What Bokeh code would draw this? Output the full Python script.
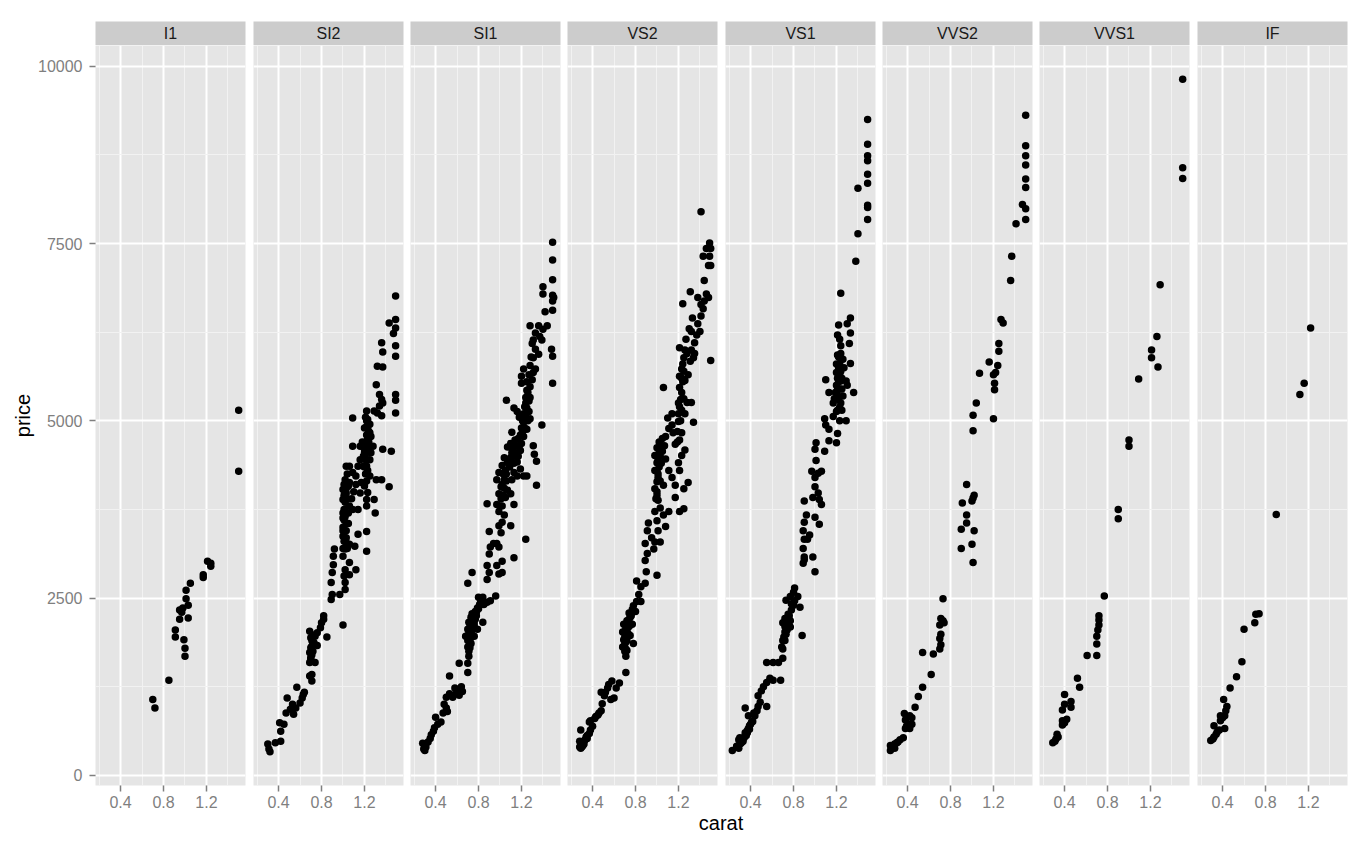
import math
from bokeh.plotting import figure
from bokeh.layouts import row, column
from bokeh.models import Range1d, FixedTicker, Label
from bokeh.embed import file_html
from bokeh.resources import INLINE

# ---------------- data (carat, price) ----------------
clarity = ["I1", "SI2", "SI1", "VS2", "VS1", "VVS2", "VVS1", "IF"]

i1_points = [(0.70,1070),(0.72,950),(0.85,1340),(0.91,2050),(0.91,1950),(0.95,2200),(0.95,2330),(0.97,2300),
    (0.98,2360),(0.99,1910),(1.00,1790),(1.00,1680),(1.01,2490),(1.01,2610),(1.03,2400),(1.03,2220),(1.05,2710),
    (1.17,2830),(1.17,2790),(1.21,3020),(1.24,2950),(1.24,2990),(1.50,5150),(1.50,4290)]

si2_points = [(0.30,440),(0.31,370),(0.32,330),(0.37,460),(0.42,480),(0.42,620),(0.41,740),(0.45,720),(0.47,880),
    (0.48,1090),(0.51,930),(0.53,1000),(0.54,860),(0.56,950),(0.57,1240),(0.60,1020),(0.62,1090),(0.63,1140),
    (0.64,1170),(0.69,1400),(0.71,1330),(0.71,1420),(0.69,1590),(0.70,1640),(0.74,1590),(0.69,1730),(0.71,1820),
    (0.73,1870),(0.76,1830),(0.70,1940),(0.69,2030),(0.74,1960),(0.76,2010),(0.79,2080),(0.80,2150),(0.82,2200),
    (0.82,2250),(0.85,1950),(1.00,2120),(0.89,2480),(0.90,2550),(0.97,2550),(0.89,2720),(0.90,2860),(0.91,2970),
    (0.91,3090),(0.92,3190),(1.02,2620),(1.02,2720),(1.01,2810),(1.02,2900),(1.06,2830),(1.12,2900),(1.06,3000),
    (1.00,3090),(1.02,3190),(1.03,3280),(1.06,3260),(1.11,3230),(1.22,3160),(1.14,3400),(1.22,3440),(1.00,3370),
    (1.01,3470),(1.03,3560),(1.00,3630),(1.02,3750),(1.05,3700),(1.06,3800),(1.09,3750),(1.14,3750),(1.00,3890),
    (1.03,3980),(1.05,4080),(1.00,4030),(1.02,4170),(1.06,4130),(1.09,4270),(1.12,4220),(1.06,4360),(1.14,4360),
    (1.03,4360),(1.16,4450),(1.17,4130),(1.16,3980),(1.20,4080),(1.22,3890),(1.23,3990),(1.25,4220),(1.22,4360),
    (1.20,4550),(1.22,4640),(1.23,4740),(1.25,4830),(1.22,4920),(1.26,4780),(1.28,4640),(1.26,4550),(1.23,5020),
    (1.22,5140),(1.29,5140),(1.32,5110),(1.36,5070),(1.29,3890),(1.30,3700),(1.22,3800),(1.25,4450),(1.19,4360),
    (1.09,5040),(1.09,4640),(1.16,4640),(1.37,4600),(1.45,4570),(1.31,4170),(1.36,4170),(1.43,4070),(1.31,5510),
    (1.34,5370),(1.36,5300),(1.34,5210),(1.37,5250),(1.32,5770),(1.37,5760),(1.36,6100),(1.37,5970),(1.43,6380),
    (1.47,6230),(1.49,6310),(1.49,6430),(1.49,6760),(1.49,6060),(1.49,5910),(1.49,5370),(1.49,5290),(1.49,5110),
    (1.00,3500),(1.01,3600),(1.02,3650),(1.03,3450),(1.04,3900),(1.05,3550),(1.01,3950),(1.20,4600),(1.21,4700),
    (1.22,4800),(1.20,4900),(1.23,4450),(1.24,4600),(1.21,4250),(1.19,4500),(1.18,4700),(1.22,5000),(1.25,4950),
    (1.23,4300),(1.03,3350),(1.04,3200),(1.10,4000),(1.12,4100),(1.08,3900),(0.70,1800),(0.71,1900),(0.72,1750),
    (0.70,1660),(0.72,1980),(1.00,3200),(1.01,3300),(1.00,3450),(1.01,3750),(1.02,3850),(1.00,3700),(1.01,4100),
    (1.03,4050),(1.04,4250),(1.21,4450),(1.22,4550),(1.24,4700),(1.23,4900),(1.21,5050),(1.24,4850),(1.20,4350),
    (1.22,4150),(0.71,1700),(0.72,1850)]

si1_points = [(0.28,450),(0.29,370),(0.30,350),(0.31,400),(0.33,470),(0.35,520),(0.36,570),(0.38,620),(0.39,670),
    (0.42,720),(0.45,750),(0.40,820),(0.47,880),(0.48,1000),(0.50,950),(0.51,900),(0.50,1100),(0.53,1150),
    (0.56,1100),(0.58,1230),(0.59,1150),(0.61,1200),(0.62,1130),(0.64,1250),(0.65,1180),(0.53,1400),(0.62,1580),
    (0.70,1450),(0.70,1580),(0.71,1680),(0.70,1810),(0.73,1860),(0.68,1960),(0.70,2060),(0.71,2160),(0.73,2230),
    (0.74,2280),(0.76,2260),(0.77,2310),(0.79,2360),(0.81,2410),(0.82,2460),(0.85,2410),(0.84,2160),(0.76,1960),
    (0.79,2060),(0.88,2440),(0.91,2460),(0.80,2510),(0.84,2510),(0.96,2530),(0.70,2710),(0.74,2860),(0.88,2760),
    (0.90,2860),(0.88,2960),(0.90,3120),(0.91,3220),(0.94,3270),(0.97,3270),(0.99,3220),(0.97,2960),(1.02,3020),
    (0.99,2840),(1.02,2860),(1.13,3070),(1.24,3330),(0.90,3440),(1.01,3420),(0.99,3520),(1.02,3570),(1.04,3670),
    (0.99,3720),(0.97,3820),(0.99,3970),(1.01,4070),(1.04,4170),(1.05,3920),(1.07,4020),(1.10,3970),(1.13,3820),
    (1.10,3520),(0.97,4170),(0.99,4270),(1.02,4370),(1.04,4480),(1.07,4420),(1.10,4480),(1.13,4270),(1.11,4170),
    (1.16,4220),(1.19,4320),(1.22,4220),(1.25,4220),(1.34,4090),(1.07,4630),(1.10,4680),(1.13,4530),(1.16,4420),
    (1.19,4580),(1.20,4680),(1.22,4780),(1.25,4880),(1.31,4650),(1.32,4530),(1.34,4430),(0.88,3830),(1.11,4840),
    (1.14,4730),(1.22,4980),(1.24,5080),(1.25,5180),(1.27,5130),(1.28,5030),(1.24,5330),(1.25,5430),(1.28,5480),
    (1.30,5580),(1.31,5680),(1.33,5730),(1.20,5530),(1.20,5630),(1.22,5730),(1.27,5280),(1.28,5330),(1.13,5180),
    (1.16,5130),(1.06,5290),(1.39,4940),(1.28,5780),(1.31,5890),(1.33,6010),(1.36,5940),(1.31,6140),(1.33,6240),
    (1.36,6340),(1.28,6340),(1.30,6090),(1.37,6190),(1.39,6140),(1.40,6290),(1.44,6340),(1.42,6540),(1.40,6890),
    (1.40,6790),(1.49,6770),(1.50,6740),(1.49,6690),(1.49,6560),(1.49,6990),(1.49,7270),(1.49,7520),(1.48,6010),
    (1.49,5910),(1.49,5530),(0.70,1900),(0.71,2000),(0.72,2100),(0.73,2000),(0.72,1900),(0.74,2150),(0.75,2200),
    (0.71,1750),(0.76,2120),(0.78,2250),(0.77,2200),(1.01,3900),(1.02,4100),(1.03,4250),(1.05,4300),(1.08,4400),
    (1.12,4600),(1.15,4650),(1.17,4750),(1.20,4900),(1.21,5000),(1.23,5200),(1.19,4800),(1.14,4500),(1.06,4150),
    (1.00,3800),(1.26,5400),(1.18,5050),(0.72,1800),(0.73,1950),(0.74,2050),(0.75,2100),(0.76,2170),(0.78,2300),
    (0.80,2350),(0.71,2050),(1.02,3800),(1.03,3950),(1.04,4050),(1.06,4250),(1.09,4350),(1.11,4550),(1.13,4400),
    (1.15,4550),(1.17,4500),(1.18,4650),(1.21,4850),(1.22,5100),(1.24,5250),(1.23,4900),(1.26,5000),(1.25,5550),
    (1.27,5650),(1.29,5900)]

vs2_points = [(0.28,480),(0.28,400),(0.29,380),(0.30,430),(0.31,460),(0.32,480),(0.34,540),(0.35,560),(0.37,590),
    (0.38,640),(0.29,640),(0.40,690),(0.37,750),(0.38,770),(0.42,800),(0.43,830),(0.45,850),(0.46,880),(0.48,910),
    (0.49,1010),(0.48,1170),(0.51,1120),(0.52,1170),(0.54,1230),(0.55,1280),(0.58,1330),(0.57,1070),(0.60,1090),
    (0.62,1230),(0.65,1300),(0.71,1450),(0.71,1680),(0.68,1810),(0.69,1910),(0.68,2020),(0.69,2130),(0.71,2070),
    (0.72,2180),(0.75,2230),(0.74,2290),(0.77,2340),(0.78,2390),(0.80,2310),(0.81,2450),(0.85,2450),(0.83,2550),
    (0.81,2740),(0.85,2660),(0.77,2130),(0.78,1860),(0.72,1760),(0.75,1970),(0.89,2710),(0.90,2870),(1.00,2820),
    (0.89,3030),(0.91,3130),(0.89,3270),(0.91,3450),(0.92,3560),(0.95,3350),(0.97,3190),(0.98,3290),(1.03,3290),
    (1.01,3450),(1.00,3590),(0.98,3720),(1.01,3880),(1.03,3770),(1.06,3670),(1.11,3720),(1.08,3510),(1.17,3920),
    (1.21,3720),(1.25,3760),(0.98,4040),(1.00,4140),(1.01,4250),(0.98,4300),(1.00,4410),(0.98,4510),(1.00,4620),
    (1.03,4670),(1.05,4570),(1.08,4460),(1.11,4300),(1.14,4200),(1.17,4090),(1.06,4090),(1.25,4040),(1.29,4130),
    (1.21,4300),(1.20,4410),(1.23,4510),(1.26,4590),(1.08,4780),(1.11,4890),(1.14,4940),(1.15,4830),(1.17,4670),
    (1.21,4730),(1.23,4830),(1.20,4990),(1.23,5150),(1.26,5100),(1.28,5260),(1.32,5260),(1.34,4980),(1.25,5310),
    (1.21,5470),(1.21,5630),(1.23,5730),(1.26,5570),(1.29,5650),(1.25,5890),(1.21,6030),(1.28,5950),(1.31,5840),
    (1.34,5890),(1.32,6000),(1.35,5950),(1.35,6100),(1.37,6210),(1.40,6260),(1.32,6260),(1.38,6370),(1.41,6480),
    (1.43,6580),(1.38,6740),(1.41,6640),(1.44,6690),(1.46,6790),(1.48,6740),(1.31,6820),(1.24,6650),(1.06,5470),
    (1.14,5100),(1.10,5040),(1.44,6980),(1.43,7320),(1.46,7430),(1.49,7510),(1.50,7430),(1.49,7320),(1.48,7190),
    (1.50,7190),(1.41,7950),(1.50,5850),(0.70,1950),(0.71,2000),(0.72,2050),(0.70,1850),(0.73,2100),(0.72,1900),
    (0.74,2200),(0.71,1780),(1.00,4300),(1.01,4450),(1.02,4550),(1.04,4400),(1.00,3950),(1.03,4150),(1.22,5000),
    (1.23,5400),(1.20,5250),(1.24,5550),(1.19,4700),(1.25,5700),(0.31,420),(0.32,440),(0.33,500),(0.30,400),
    (0.35,520),(0.70,1750),(0.71,1880),(0.72,1970),(0.73,2000),(0.74,2100),(0.76,2250),(0.99,3900),(1.00,4000),
    (1.01,4200),(1.02,4350),(1.03,4500),(1.02,4700),(1.05,4750),(1.07,4650),(1.19,4850),(1.20,5100),(1.21,5200),
    (1.22,5300),(1.23,5600),(1.24,5800),(1.26,6000),(1.27,6150),(1.30,6300),(1.33,6450)]

vs1_points = [(0.23,350),(0.27,410),(0.29,380),(0.30,440),(0.32,470),(0.29,500),(0.30,530),(0.34,530),(0.35,600),
    (0.37,630),(0.38,660),(0.40,720),(0.41,750),(0.38,840),(0.35,950),(0.43,880),(0.44,840),(0.46,910),(0.47,970),
    (0.49,1030),(0.55,970),(0.47,1120),(0.50,1190),(0.52,1250),(0.55,1310),(0.58,1370),(0.61,1340),(0.68,1340),
    (0.55,1590),(0.61,1590),(0.66,1590),(0.70,1650),(0.69,1810),(0.70,1900),(0.72,2020),(0.70,2150),(0.72,2210),
    (0.75,2270),(0.77,2180),(0.78,2330),(0.80,2400),(0.81,2460),(0.77,2520),(0.80,2580),(0.73,2470),(0.81,2640),
    (0.84,2520),(0.86,2370),(0.88,1970),(0.70,1780),(0.73,1990),(0.77,2090),(0.89,2990),(0.90,3080),(0.89,3200),
    (0.90,3330),(0.89,3450),(0.90,3570),(0.92,3670),(0.90,3040),(0.93,3330),(0.95,3390),(0.98,3080),(1.00,2870),
    (0.90,3870),(1.00,3640),(1.04,3540),(0.98,3920),(1.00,4070),(1.03,3980),(1.04,3890),(1.06,3820),(1.00,4200),
    (1.03,4260),(1.06,4290),(0.97,4290),(1.01,4440),(1.00,4600),(1.01,4690),(1.09,4570),(1.10,4940),(1.13,4720),
    (1.20,4690),(1.21,4820),(1.13,4880),(1.09,5030),(1.17,5060),(1.20,5130),(1.23,5190),(1.29,5000),(1.18,5310),
    (1.21,5440),(1.24,5560),(1.20,5680),(1.23,5810),(1.26,5870),(1.27,5750),(1.29,5560),(1.30,5500),(1.33,5810),
    (1.36,5400),(1.13,5400),(1.10,5580),(1.17,5250),(1.21,5930),(1.24,6060),(1.32,6090),(1.33,6240),(1.30,6370),
    (1.21,6210),(1.22,6350),(1.33,6450),(1.24,6800),(1.38,7250),(1.40,7640),(1.40,8280),(1.49,9250),(1.49,8900),
    (1.49,8740),(1.49,8670),(1.49,8480),(1.49,8350),(1.49,8040),(1.49,8010),(1.49,7840),(1.22,5300),(1.23,5450),
    (1.24,5700),(1.25,5600),(1.21,5600),(1.22,5900),(1.23,5000),(1.24,5250),(1.20,5500),(1.26,5350),(1.22,5750),
    (0.33,480),(0.36,560),(0.39,700),(0.31,450),(0.71,1950),(0.72,2100),(0.74,2200),(1.21,5350),(1.22,5450),
    (1.23,5650),(1.24,5950),(1.25,5450),(1.21,5150),(1.22,5550),(1.23,5900),(1.19,5400),(1.25,5150),(1.20,5800),
    (1.23,6150),(0.72,1900),(0.74,2050),(0.75,2120),(0.76,2250),(0.78,2420),(0.35,560),(0.37,600),(0.39,650),
    (0.42,760)]

vvs2_points = [(0.24,350),(0.24,420),(0.25,400),(0.27,410),(0.28,440),(0.30,460),(0.31,470),(0.28,380),(0.33,500),
    (0.36,530),(0.38,660),(0.39,690),(0.41,720),(0.42,660),(0.44,720),(0.38,780),(0.39,810),(0.42,840),(0.44,810),
    (0.37,870),(0.47,960),(0.50,1110),(0.54,1240),(0.62,1420),(0.54,1730),(0.64,1710),(0.70,1780),(0.71,1840),
    (0.70,1930),(0.71,1990),(0.70,2120),(0.71,2210),(0.73,2180),(0.74,2150),(0.73,2490),(0.90,3200),(1.00,3260),
    (1.01,3000),(0.90,3470),(1.02,3450),(0.95,3560),(0.95,3670),(0.91,3840),(1.00,3870),(1.01,3910),(1.02,3950),
    (0.95,4100),(1.01,4860),(1.01,5080),(1.04,5250),(1.20,5030),(1.21,5440),(1.21,5530),(1.20,5650),(1.22,5680),
    (1.24,5780),(1.07,5670),(1.16,5830),(1.25,5980),(1.25,6090),(1.27,6430),(1.29,6380),(1.36,6980),(1.37,7320),
    (1.41,7780),(1.47,8050),(1.50,7990),(1.50,7840),(1.50,8290),(1.50,8410),(1.50,8610),(1.50,8740),(1.50,8880),
    (1.50,9310)]

vvs1_points = [(0.29,460),(0.31,480),(0.32,510),(0.34,540),(0.33,580),(0.38,710),(0.40,740),(0.38,770),(0.42,790),
    (0.38,920),(0.40,1000),(0.46,1040),(0.46,960),(0.40,1140),(0.52,1370),(0.54,1240),(0.61,1690),(0.70,1690),
    (0.70,1850),(0.70,1960),(0.71,2050),(0.72,2120),(0.72,2190),(0.72,2250),(0.77,2530),(0.90,3620),(0.90,3750),
    (1.00,4640),(1.00,4730),(1.09,5590),(1.21,6000),(1.21,5890),(1.27,5760),(1.26,6190),(1.29,6920),(1.50,8420),
    (1.50,8570),(1.50,9820)]

if_points = [(0.29,490),(0.31,510),(0.32,540),(0.34,580),(0.35,610),(0.37,640),(0.42,660),(0.32,700),(0.38,770),
    (0.40,810),(0.42,840),(0.43,910),(0.44,970),(0.38,840),(0.41,1070),(0.47,1230),(0.53,1390),(0.58,1600),
    (0.60,2060),(0.70,2150),(0.71,2270),(0.74,2280),(0.90,3680),(1.12,5370),(1.16,5530),(1.22,6310)]

panel_points = [i1_points, si2_points, si1_points, vs2_points, vs1_points, vvs2_points, vvs1_points, if_points]

x_ticks = [0.4, 0.8, 1.2]
x_minor = [0.2, 0.6, 1.0, 1.4]
y_ticks = [0, 2500, 5000, 7500, 10000]
y_minor = [1250, 3750, 6250, 8750]
x_label = "carat"
y_label = "price"

# ---------------- scales (ggplot-like 5% expansion) ----------------
all_c = [c for pts in panel_points for c, _ in pts]
all_p = [v for pts in panel_points for _, v in pts]
cx0, cx1 = min(all_c), max(all_c)
px0, px1 = min(all_p), max(all_p)
xpad = 0.05 * (cx1 - cx0)
ypad = 0.05 * (px1 - px0)
x_start, x_end = cx0 - xpad, cx1 + xpad
y_start, y_end = px0 - ypad, px1 + ypad

FONT = "Liberation Sans"
GREY50 = "#7F7F7F"
FRAME_W = 150
LEFT = 95
gaps = [8, 7, 7, 8, 7, 7, 8, 5]


def bare(fig):
    for g in fig.grid:
        g.visible = False


strips = []
panels = []
for i, (name, pts) in enumerate(zip(clarity, panel_points)):
    first = (i == 0)

    # ----- facet strip -----
    s = figure(frame_width=FRAME_W, frame_height=24,
               x_range=Range1d(0, 1), y_range=Range1d(0, 1),
               output_backend="svg", toolbar_location=None,
               x_axis_location=None, y_axis_location=None,
               min_border_left=LEFT if first else 0, min_border_right=gaps[i],
               min_border_top=21, min_border_bottom=0,
               background_fill_color="#CCCCCC", border_fill_color="white",
               outline_line_color=None)
    bare(s)
    s.add_layout(Label(x=0.5, y=0.5, text=name, text_align="center", text_baseline="middle",
                       text_font=FONT, text_font_size="16px", text_color="#1A1A1A"))
    strips.append(s)

    # ----- panel -----
    p = figure(frame_width=FRAME_W, frame_height=740,
               x_range=Range1d(x_start, x_end), y_range=Range1d(y_start, y_end),
               output_backend="svg", toolbar_location=None,
               y_axis_location="left" if first else None,
               min_border_left=LEFT if first else 0, min_border_right=gaps[i],
               min_border_top=0, min_border_bottom=24,
               background_fill_color="#E5E5E5", border_fill_color="white",
               outline_line_color=None)

    p.xgrid.ticker = FixedTicker(ticks=x_ticks, minor_ticks=x_minor)
    p.ygrid.ticker = FixedTicker(ticks=y_ticks, minor_ticks=y_minor)
    for g in (p.xgrid[0], p.ygrid[0]):
        g.grid_line_color = "white"
        g.grid_line_width = 2
        g.minor_grid_line_color = "#F2F2F2"
        g.minor_grid_line_width = 1

    xa = p.xaxis[0]
    xa.ticker = FixedTicker(ticks=x_ticks)
    xa.axis_line_color = None
    xa.major_tick_line_color = GREY50
    xa.major_tick_line_width = 1.5
    xa.major_tick_out = 6
    xa.major_tick_in = 0
    xa.minor_tick_line_color = None
    xa.major_label_text_color = GREY50
    xa.major_label_text_font = FONT
    xa.major_label_text_font_size = "16px"
    xa.major_label_standoff = 4
    xa.axis_label_standoff = 0

    if first:
        ya = p.yaxis[0]
        ya.ticker = FixedTicker(ticks=y_ticks)
        ya.axis_line_color = None
        ya.major_tick_line_color = GREY50
        ya.major_tick_line_width = 1.5
        ya.major_tick_out = 6
        ya.major_tick_in = 0
        ya.minor_tick_line_color = None
        ya.major_label_text_color = GREY50
        ya.major_label_text_font = FONT
        ya.major_label_text_font_size = "16px"
        ya.major_label_standoff = 7
        ya.axis_label = y_label
        ya.axis_label_text_font = FONT
        ya.axis_label_text_font_size = "20px"
        ya.axis_label_text_font_style = "normal"
        ya.axis_label_text_color = "black"
        ya.axis_label_standoff = 1

    xs = [c for c, _ in pts]
    ys = [v for _, v in pts]
    p.scatter(xs, ys, size=7.5, fill_color="black", line_color=None)
    panels.append(p)

# x title centred under all panels
CAP_H = 28
cap = figure(frame_width=7 * 157 + FRAME_W + 2, frame_height=CAP_H,
             x_range=Range1d(0, 1), y_range=Range1d(0, CAP_H),
             output_backend="svg", toolbar_location=None,
             x_axis_location=None, y_axis_location=None,
             min_border_left=LEFT, min_border_right=5, min_border_top=0, min_border_bottom=0,
             background_fill_color="white", border_fill_color="white", outline_line_color=None)
bare(cap)
cap.add_layout(Label(x=0.5, y=CAP_H / 2 + 2, text=x_label, text_align="center",
                     text_baseline="middle", text_font=FONT, text_font_size="20px",
                     text_color="black"))

layout = column(row(*strips), row(*panels), cap)
open("out.html", "w").write(file_html(layout, INLINE))
